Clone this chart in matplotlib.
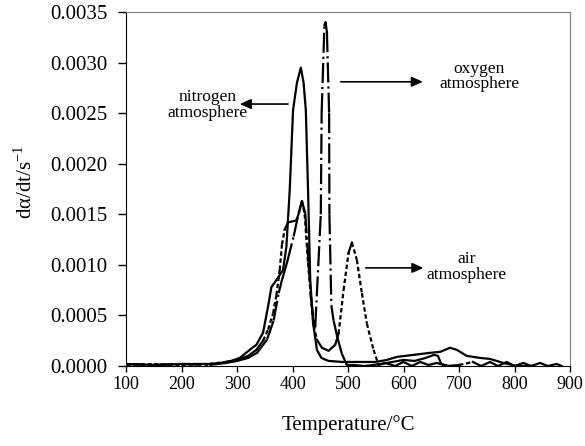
import numpy as np
import matplotlib
matplotlib.use("Agg")
import matplotlib.pyplot as plt
from matplotlib.ticker import FormatStrFormatter

plt.rcParams['font.family'] = ['Liberation Serif', 'DejaVu Serif']
plt.rcParams['mathtext.fontset'] = 'custom'
plt.rcParams['mathtext.rm'] = 'Liberation Serif'

# nitrogen atmosphere (solid)
t_n2 = [100, 150, 200, 250, 270, 290, 305, 323, 335, 347, 356, 362, 371, 383, 389,
        395, 401, 408, 415, 420, 424, 428, 432, 437, 444, 452, 465, 490, 520, 550,
        570, 588, 618, 648, 666, 684, 696, 714, 738, 756, 780, 804, 830]
r_n2 = [0.00002, 0.00001, 0.00002, 0.00002, 0.00003, 0.00005, 0.00008, 0.00016, 0.00021,
        0.00033, 0.00059, 0.00078, 0.00085, 0.00095, 0.00118, 0.00174, 0.00253, 0.00280,
        0.00295, 0.00280, 0.00253, 0.00174, 0.00085, 0.00043, 0.00016, 0.00008, 0.00005,
        0.00004, 0.00004, 0.00004, 0.00006, 0.00009, 0.00011, 0.00013, 0.00014, 0.00018,
        0.00016, 0.00010, 0.00008, 0.00007, 0.00003, 0.0, 0.0]

# oxygen atmosphere (dash-dot)
t_o2 = [100, 150, 200, 250, 280, 300, 320, 336, 354, 366, 375, 381, 390, 402, 411, 417,
        423, 429, 433, 438, 441, 451, 452.5, 457.5, 459.5, 462, 466, 466.5, 470, 474, 481,
        489, 498, 509, 530, 560, 580, 600, 620, 640, 655, 662, 668, 680, 690]
r_o2 = [0.00002, 0.00001, 0.00002, 0.00001, 0.00003, 0.00005, 0.00008, 0.00013, 0.00026,
        0.00045, 0.00072, 0.00085, 0.00102, 0.00128, 0.00151, 0.00163, 0.00151, 0.00102,
        0.00069, 0.00045, 0.00039, 0.00150, 0.00250, 0.00337, 0.00340, 0.00330, 0.00250,
        0.00150, 0.00060, 0.00045, 0.00028, 0.00012, 0.00001, 0.00001, 0.0, 0.00002,
        0.00004, 0.00006, 0.00005, 0.00008, 0.00011, 0.00010, 0.00002, 0.0, 0.0]

# air atmosphere (dotted)
t_air = [100, 150, 200, 250, 280, 300, 320, 335, 347, 356, 365, 371, 377, 381, 386, 392,
         400, 407, 412, 417, 422, 428, 433, 438, 444, 453, 465, 477, 483, 492, 501, 507,
         516, 525, 534, 546, 555, 567, 585, 600, 615, 630, 645, 660, 680, 700, 725, 740,
         756, 770, 786, 800, 816, 830, 846, 860, 876, 885]
r_air = [0.00001, 0.00002, 0.00001, 0.00002, 0.00004, 0.00006, 0.00010, 0.00016, 0.00025,
         0.00036, 0.00052, 0.00070, 0.00095, 0.00120, 0.00135, 0.00142, 0.00143, 0.00144,
         0.00152, 0.00163, 0.00150, 0.00102, 0.00069, 0.00040, 0.00026, 0.00018, 0.00015,
         0.00021, 0.00032, 0.00075, 0.00112, 0.00122, 0.00105, 0.00072, 0.00042, 0.00016,
         0.00001, 0.00003, 0.0, 0.00004, 0.0, 0.00004, 0.00001, 0.00003, 0.0, 0.00001,
         0.00004, 0.0, 0.00004, 0.0, 0.00004, 0.0, 0.00003, 0.0, 0.00003, 0.0, 0.00002, 0.0]

fig = plt.figure(figsize=(5.85, 4.46), dpi=100)
ax = fig.add_axes([126 / 585, 80 / 446, 444 / 585, 354 / 446])
ax.set_xlim(100, 900)
ax.set_ylim(0, 0.0035)


def draw_curve(t, r, dashes, lw=1.6, min_len=12):
    # like Excel: the dash pattern restarts on every segment, so only long
    # (steep) segments show it, the rest looks solid
    t = np.asarray(t, float)
    r = np.asarray(r, float)
    pts = ax.transData.transform(np.column_stack([t, r]))
    lens = np.hypot(*np.diff(pts, axis=0).T)
    run = [0]
    for i, L in enumerate(lens):
        if dashes is not None and L > min_len:
            if len(run) > 1:
                ax.plot(t[run], r[run], color='black', lw=lw, solid_joinstyle='round')
            ax.plot(t[i:i + 2], r[i:i + 2], color='black', lw=lw, linestyle=(0, dashes))
            run = [i + 1]
        else:
            run.append(i + 1)
    if len(run) > 1:
        ax.plot(t[run], r[run], color='black', lw=lw, solid_joinstyle='round')


draw_curve(t_n2, r_n2, None)
draw_curve(t_o2, r_o2, (9, 1.8, 1, 1.8))
draw_curve(t_air, r_air, (2, 1.2))

ax.set_xticks(np.arange(100, 901, 100))
ax.set_yticks(np.arange(0, 0.00351, 0.0005))
ax.yaxis.set_major_formatter(FormatStrFormatter('%.4f'))
ax.tick_params(axis='x', labelsize=13, length=4.5, width=1, direction='out', pad=3)
ax.tick_params(axis='y', labelsize=15, length=5.5, width=1, direction='out', pad=8)
for s in ['top', 'right']:
    ax.spines[s].set_color('#808080')
for s in ['left', 'bottom']:
    ax.spines[s].set_color('black')

ax.set_xlabel('Temperature/°C', fontsize=15)
ax.set_ylabel('dα/dt/s$^{-1}$', fontsize=15)
ax.xaxis.set_label_coords(0.5, -0.14)
ax.yaxis.set_label_coords(-0.20, 0.52)

arrow = dict(arrowstyle='-|>,head_length=0.45,head_width=0.2', color='black',
             lw=1.2, mutation_scale=15, shrinkA=0, shrinkB=0)
ax.annotate('', xy=(305, 0.00259), xytext=(392, 0.00259), arrowprops=arrow)
ax.annotate('', xy=(635, 0.00281), xytext=(487, 0.00281), arrowprops=arrow)
ax.annotate('', xy=(636, 0.00097), xytext=(532, 0.00097), arrowprops=arrow)
ax.text(247, 0.00258, 'nitrogen\natmosphere', ha='center', va='center', fontsize=12.5, linespacing=0.95)
ax.text(737, 0.00286, 'oxygen\natmosphere', ha='center', va='center', fontsize=12.5, linespacing=0.95)
ax.text(714, 0.00098, 'air\natmosphere', ha='center', va='center', fontsize=12.5, linespacing=0.95)

fig.savefig('out.png', dpi=100)
